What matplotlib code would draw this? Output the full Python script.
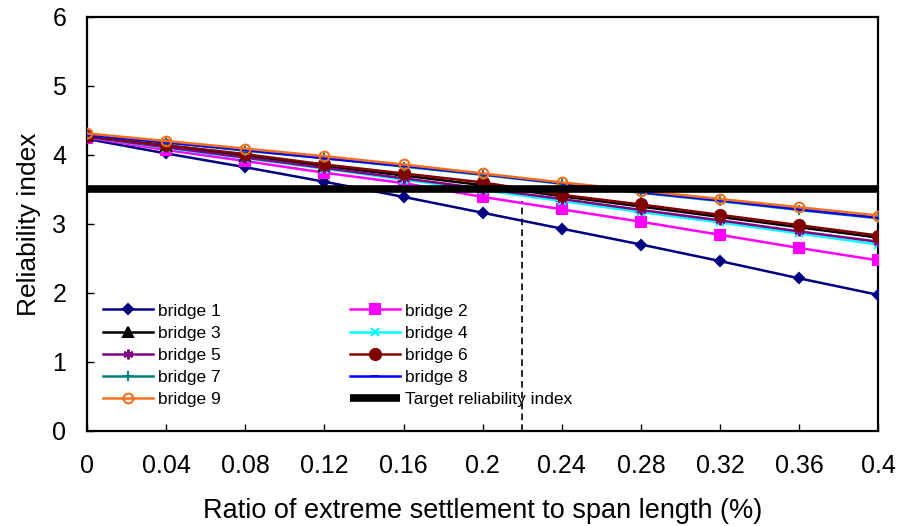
import matplotlib
matplotlib.use('Agg')
import matplotlib.pyplot as plt
import numpy as np

plt.rcParams['font.family'] = ['Liberation Sans', 'DejaVu Sans']

# ============================================
#              data
# ============================================

ratio = [0, 0.04, 0.08, 0.12, 0.16, 0.2, 0.24, 0.28, 0.32, 0.36, 0.4]
x_ticks = [0, 0.04, 0.08, 0.12, 0.16, 0.2, 0.24, 0.28, 0.32, 0.36, 0.4]
x_tick_labels = ['0', '0.04', '0.08', '0.12', '0.16', '0.2', '0.24', '0.28', '0.32', '0.36', '0.4']

bridge_1 = [4.23, 4.02, 3.82, 3.61, 3.39, 3.16, 2.93, 2.70, 2.46, 2.21, 1.97]
bridge_2 = [4.25, 4.07, 3.91, 3.74, 3.59, 3.39, 3.21, 3.03, 2.84, 2.65, 2.47]
bridge_3 = [4.27, 4.13, 3.99, 3.84, 3.70, 3.56, 3.40, 3.25, 3.10, 2.95, 2.80]
bridge_4 = [4.26, 4.10, 3.95, 3.80, 3.64, 3.49, 3.33, 3.17, 3.02, 2.86, 2.70]
bridge_5 = [4.26, 4.11, 3.96, 3.81, 3.66, 3.51, 3.36, 3.20, 3.05, 2.89, 2.74]
bridge_6 = [4.27, 4.14, 4.01, 3.86, 3.73, 3.60, 3.42, 3.28, 3.13, 2.98, 2.83]
bridge_7 = [4.29, 4.18, 4.06, 3.95, 3.83, 3.71, 3.58, 3.45, 3.33, 3.20, 3.08]
bridge_8 = [4.29, 4.18, 4.07, 3.95, 3.84, 3.72, 3.59, 3.46, 3.34, 3.21, 3.09]
bridge_9 = [4.31, 4.20, 4.09, 3.98, 3.86, 3.73, 3.60, 3.48, 3.36, 3.24, 3.12]

target_beta = 3.5
cut_ratio = 0.22
cut_beta = 3.33

# ============================================
#              plot
# ============================================

fig = plt.figure(figsize=(8.98, 5.26), dpi=100)
ax = fig.add_axes([0.097, 0.181, 0.881, 0.787])

styles = [
    (bridge_1, 'bridge 1', '#000080', 'D', 5, '#000080'),
    (bridge_2, 'bridge 2', '#FF00FF', 's', 7, '#FF00FF'),
    (bridge_3, 'bridge 3', '#000000', '^', 7, '#000000'),
    (bridge_4, 'bridge 4', '#00FFFF', 'x', 6, '#00FFFF'),
    (bridge_5, 'bridge 5', '#800080', (6, 2, 0), 7, '#800080'),
    (bridge_6, 'bridge 6', '#800000', 'o', 8, '#800000'),
    (bridge_7, 'bridge 7', '#008080', '+', 7, '#008080'),
    (bridge_8, 'bridge 8', '#0000FF', '_', 6, '#0000FF'),
    (bridge_9, 'bridge 9', '#F07020', 'o', 7, 'none'),
]

handles = []
for vals, name, col, mk, ms, fc in styles:
    h, = ax.plot(ratio, vals, color=col, lw=1.8, marker=mk, markersize=ms,
                 markerfacecolor=fc, markeredgecolor=col, markeredgewidth=1.5,
                 label=name, zorder=3)
    handles.append(h)

ht, = ax.plot([0, 0.4], [target_beta, target_beta], color='black', lw=5.5,
              label='Target reliability index', zorder=4, solid_capstyle='butt')
ax.plot([cut_ratio, cut_ratio], [0, cut_beta], color='black', lw=1.2,
        linestyle=(0, (4, 2.5)), zorder=2)

ax.set_xlim(0, 0.4)
ax.set_ylim(0, 6)
ax.set_xticks(x_ticks)
ax.set_xticklabels(x_tick_labels)
ax.set_yticks([0, 1, 2, 3, 4, 5, 6])
ax.tick_params(direction='in', length=5, width=1, labelsize=18, colors='black')
ax.tick_params(axis='x', pad=17)
ax.tick_params(axis='y', pad=15)
for sp in ax.spines.values():
    sp.set_linewidth(1.6)
    sp.set_color('black')

ax.set_xlabel('Ratio of extreme settlement to span length (%)', fontsize=19.5, labelpad=14)
ax.set_ylabel('Reliability index', fontsize=19, labelpad=8)

# two-column legend, order as in the original (row by row)
order = [handles[0], handles[2], handles[4], handles[6], handles[8],
         handles[1], handles[3], handles[5], handles[7], ht]
ax.legend(handles=order, labels=[h.get_label() for h in order], ncol=2,
          loc='lower left', bbox_to_anchor=(0.0, 0.02), frameon=False,
          fontsize=12.5, handlelength=2.9, handletextpad=0.3,
          columnspacing=7.4, labelspacing=0.4, borderaxespad=0.5)

fig.savefig('out.png', dpi=100)
